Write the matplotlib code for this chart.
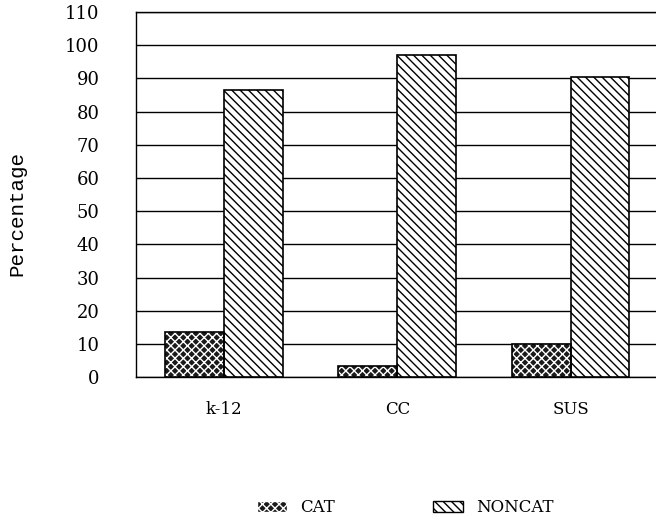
"""Grouped bar chart: CAT vs NONCAT percentage by segment."""
import matplotlib
matplotlib.use("Agg")
import matplotlib.pyplot as plt
import numpy as np
from matplotlib.patches import Patch

plt.rcParams.update({
    "font.family": ["DejaVu Serif"],
    "font.size": 13,
    "hatch.linewidth": 1.0,
})

categories = ["k-12", "CC", "SUS"]
cat_values = [13.5, 3.3, 10.0]
noncat_values = [86.5, 97.0, 90.5]
y_ticks = list(range(0, 111, 10))

fig = plt.figure(figsize=(6.56, 5.23), dpi=100)
ax = fig.add_axes([0.207, 0.279, 0.80, 0.698])

x = np.arange(len(categories))
w = 0.34

# CAT: dark fill with white cross-hatch speckle
ax.bar(x - w / 2, cat_values, w, color="#1a1a1a", edgecolor="white",
       hatch="xxxx", linewidth=0, zorder=3)
ax.bar(x - w / 2, cat_values, w, fill=False, edgecolor="black",
       linewidth=1.2, zorder=4)
# NONCAT: dense diagonal stripes
ax.bar(x + w / 2, noncat_values, w, color="white", edgecolor="black",
       hatch="\\\\\\\\", linewidth=0, zorder=3)
ax.bar(x + w / 2, noncat_values, w, fill=False, edgecolor="black",
       linewidth=1.2, zorder=4)

ax.set_xlim(-0.51, 2.52)
ax.set_ylim(0, 110)
ax.set_yticks(y_ticks)
ax.set_yticklabels([str(t) for t in y_ticks], fontsize=13)
ax.tick_params(axis="y", length=0, pad=26)
ax.tick_params(axis="x", length=0, pad=17)
ax.set_xticks(x)
ax.set_xticklabels(categories, fontsize=12)
ax.yaxis.grid(True, color="black", linewidth=1.0, zorder=0)
ax.set_axisbelow(True)
for s in ax.spines.values():
    s.set_color("black")
    s.set_linewidth(1.0)
ax.set_ylabel("Percentage", fontsize=15, family="Liberation Mono")
ax.yaxis.set_label_coords(-0.208, 0.449)

handles = [
    Patch(facecolor="#1a1a1a", edgecolor="white", hatch="xxxx",
          label="CAT"),
    Patch(facecolor="white", edgecolor="black", hatch="\\\\\\\\",
          label="NONCAT"),
]
fig.legend(handles=handles, loc="center", bbox_to_anchor=(0.618, 0.029),
           ncol=2, frameon=False, columnspacing=5.9, handlelength=1.8,
           handleheight=0.6, handletextpad=0.8, fontsize=12)

fig.savefig("out.png", dpi=100)
